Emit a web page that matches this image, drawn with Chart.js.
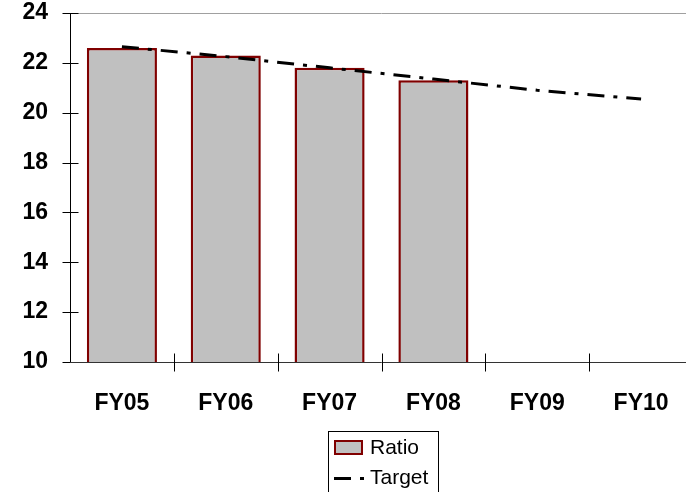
<!DOCTYPE html>
<html>
<head>
<meta charset="utf-8">
<script src="https://cdn.jsdelivr.net/npm/chart.js@4/dist/chart.umd.min.js"></script>
<style>
  html, body { margin: 0; padding: 0; background: #fff; overflow: hidden; }
  #wrap { position: relative; width: 700px; height: 492px; }
</style>
</head>
<body>
<div id="wrap"><canvas id="c" width="700" height="492"></canvas></div>
<script>
const categories = ['FY05', 'FY06', 'FY07', 'FY08', 'FY09', 'FY10'];
const ratioValues = [22.6, 22.3, 21.8, 21.3, null, null];
const targetValues = [22.65, 22.25, 21.8, 21.35, 20.9, 20.55];
const yTicks = [10, 12, 14, 16, 18, 20, 22, 24];

const FONT = '"Liberation Sans", Arial, Helvetica, sans-serif';
const DASH = [17, 9, 4, 9];

// Axis lines with ticks that cross the axis, plus the top border line
const axesPlugin = {
  id: 'crossAxes',
  afterDatasetsDraw(chart) {
    const { ctx, chartArea: a, scales } = chart;
    const y = scales.y, x = scales.x;
    ctx.save();
    ctx.lineWidth = 1;
    // top line at max
    ctx.strokeStyle = '#a0a0a0';
    ctx.beginPath();
    ctx.moveTo(a.left, Math.round(y.getPixelForValue(y.max)) + 0.5);
    ctx.lineTo(a.right, Math.round(y.getPixelForValue(y.max)) + 0.5);
    ctx.stroke();
    ctx.strokeStyle = '#000';
    // value axis
    const ax = Math.round(a.left) + 0.5;
    ctx.beginPath();
    ctx.moveTo(ax, y.getPixelForValue(y.max));
    ctx.lineTo(ax, y.getPixelForValue(y.min));
    ctx.stroke();
    yTicks.forEach(v => {
      const py = Math.round(y.getPixelForValue(v)) + 0.5;
      ctx.beginPath();
      ctx.moveTo(ax - 8, py);
      ctx.lineTo(ax + 8, py);
      ctx.stroke();
    });
    // category axis
    const by = Math.round(y.getPixelForValue(y.min)) + 0.5;
    ctx.strokeStyle = '#333';
    ctx.beginPath();
    ctx.moveTo(a.left, by);
    ctx.lineTo(a.right, by);
    ctx.stroke();
    ctx.strokeStyle = '#000';
    const n = categories.length;
    for (let i = 1; i <= n; i++) {
      const px = Math.round((x.getPixelForValue(i - 1) + x.getPixelForValue(Math.min(i, n - 1)) ) / 2);
      const bx = (i < n ? px : Math.round(a.right)) + 0.5;
      ctx.beginPath();
      ctx.moveTo(bx, by - 9);
      ctx.lineTo(bx, by + 9);
      ctx.stroke();
    }
    ctx.restore();
  }
};

// Boxed legend listing the two series vertically
const legendPlugin = {
  id: 'boxLegend',
  afterDraw(chart) {
    const { ctx } = chart;
    const ds = chart.data.datasets;
    const left = 328, top = 431, w = 110, rowH = 30;
    ctx.save();
    ctx.fillStyle = '#fff';
    ctx.fillRect(left, top, w, rowH * ds.length + 6);
    ctx.strokeStyle = '#000';
    ctx.lineWidth = 1;
    ctx.strokeRect(left + 0.5, top + 0.5, w, rowH * ds.length + 6);
    ctx.font = '21px ' + FONT;
    ctx.textBaseline = 'middle';
    ds.forEach((d, i) => {
      const cy = top + 16 + i * rowH;
      if (d.type === 'line') {
        ctx.strokeStyle = d.borderColor;
        ctx.lineWidth = 3;
        ctx.setLineDash(DASH);
        ctx.beginPath();
        ctx.moveTo(left + 6, cy + 1.5);
        ctx.lineTo(left + 36, cy + 1.5);
        ctx.stroke();
        ctx.setLineDash([]);
      } else {
        ctx.fillStyle = d.backgroundColor;
        ctx.fillRect(left + 6, cy - 7, 29, 15);
        ctx.strokeStyle = d.borderColor;
        ctx.lineWidth = 2;
        ctx.strokeRect(left + 7, cy - 6, 27, 13);
      }
      ctx.fillStyle = '#000';
      ctx.fillText(d.label, left + 42, cy + 1);
    });
    ctx.restore();
  }
};

new Chart(document.getElementById('c'), {
  data: {
    labels: categories,
    datasets: [
      {
        type: 'bar',
        label: 'Ratio',
        data: ratioValues,
        backgroundColor: '#c0c0c0',
        borderColor: '#800000',
        borderWidth: 2.5,
        barPercentage: 0.675,
        categoryPercentage: 1,
        order: 2
      },
      {
        type: 'line',
        label: 'Target',
        data: targetValues,
        borderColor: '#000',
        borderWidth: 3,
        borderDash: DASH,
        pointRadius: 0,
        tension: 0,
        fill: false,
        order: 1
      }
    ]
  },
  options: {
    responsive: false,
    animation: false,
    layout: { padding: { top: 13, right: 7, left: 0, bottom: 0 } },
    plugins: {
      legend: { display: false },
      tooltip: { enabled: false },
      title: { display: false }
    },
    scales: {
      x: {
        offset: true,
        grid: { display: false, drawTicks: false },
        border: { display: false },
        ticks: {
          color: '#000',
          padding: 28,
          font: { family: FONT, size: 23, weight: 'bold' }
        },
        afterFit(s) { s.height = 130; s.paddingLeft = 0; s.paddingRight = 0; }
      },
      y: {
        min: 10,
        max: 24,
        grid: { display: false, drawTicks: false },
        border: { display: false },
        ticks: {
          stepSize: 2,
          color: '#000',
          padding: 22,
          font: { family: FONT, size: 23, weight: 'bold' }
        },
        afterFit(s) { s.width = 70; s.paddingTop = 0; s.paddingBottom = 0; }
      }
    }
  },
  plugins: [axesPlugin, legendPlugin]
});
</script>
</body>
</html>
